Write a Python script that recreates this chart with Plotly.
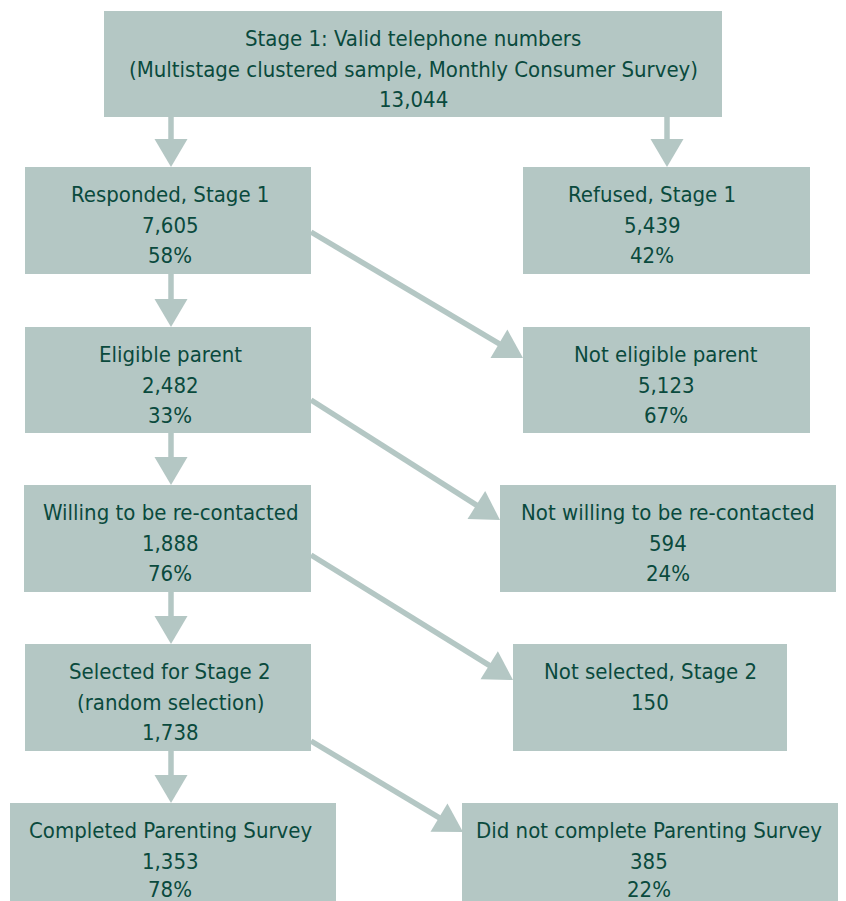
import plotly.graph_objects as go
import math

# ---- data ----
titles = [
    ["Stage 1: Valid telephone numbers", "(Multistage clustered sample, Monthly Consumer Survey)"],
    ["Responded, Stage 1"], ["Refused, Stage 1"],
    ["Eligible parent"], ["Not eligible parent"],
    ["Willing to be re-contacted"], ["Not willing to be re-contacted"],
    ["Selected for Stage 2", "(random selection)"], ["Not selected, Stage 2"],
    ["Completed Parenting Survey"], ["Did not complete Parenting Survey"],
]
counts = ["13,044", "7,605", "5,439", "2,482", "5,123", "1,888", "594",
          "1,738", "150", "1,353", "385"]
percents = ["", "58%", "42%", "33%", "67%", "76%", "24%", "", "", "78%", "22%"]

# ---- layout (pixel geometry, page coordinates) ----
W, H = 846, 901
OFF = 8  # page body margin
boxes = [  # x0, x1, y0, y1
    (104, 722, 11, 117),
    (25, 311, 167, 274), (523, 810, 167, 274),
    (25, 311, 327, 433), (523, 810, 327, 433),
    (24, 311, 485, 592), (500, 836, 485, 592),
    (25, 311, 644, 751), (513, 787, 644, 751),
    (10, 336, 803, 912), (462, 850, 803, 912),
]
text_x = [413, 170, 652, 170, 666, 170, 668, 170, 650, 170, 649]
line_offsets = [27, 58, 88]

vert_arrows = [  # x, y_start, y_tip
    (171, 117, 167), (667, 117, 167),
    (171, 274, 327), (171, 433, 485), (171, 592, 644), (171, 751, 803),
]
diag_arrows = [  # x0, y0, x_tip, y_tip
    (311, 232, 523, 358),
    (311, 400, 500, 520),
    (311, 555, 513, 680),
    (311, 741, 463, 832),
]

BOX = "#b4c7c4"
TXT = "#0a4a3d"
FONT = "DejaVu Sans Condensed, Liberation Sans Narrow, sans-serif"
FS = 22
HEAD_L, HEAD_W, SHAFT = 28, 33, 5.5

fig = go.Figure()
shapes = []
annotations = []

for (x0, x1, y0, y1) in boxes:
    shapes.append(dict(type="rect", xref="x", yref="y", x0=x0, x1=x1, y0=y0, y1=y1,
                       fillcolor=BOX, line=dict(width=0), layer="below"))


def arrow(xs, ys, xt, yt):
    dx, dy = xt - xs, yt - ys
    L = math.hypot(dx, dy)
    ux, uy = dx / L, dy / L
    bx, by = xt - ux * HEAD_L, yt - uy * HEAD_L
    shapes.append(dict(type="line", xref="x", yref="y", x0=xs, y0=ys, x1=bx + ux * 2, y1=by + uy * 2,
                       line=dict(color=BOX, width=SHAFT), layer="below"))
    px, py = -uy, ux
    p1 = (bx + px * HEAD_W / 2, by + py * HEAD_W / 2)
    p2 = (bx - px * HEAD_W / 2, by - py * HEAD_W / 2)
    path = f"M {xt},{yt} L {p1[0]:.2f},{p1[1]:.2f} L {p2[0]:.2f},{p2[1]:.2f} Z"
    shapes.append(dict(type="path", xref="x", yref="y", path=path,
                       fillcolor=BOX, line=dict(width=0), layer="below"))


for (x, ys, yt) in vert_arrows:
    arrow(x, ys, x, yt)
for (xs, ys, xt, yt) in diag_arrows:
    arrow(xs, ys, xt, yt)

for i, (x0, x1, y0, y1) in enumerate(boxes):
    lines = list(titles[i]) + [counts[i]]
    if percents[i]:
        lines.append(percents[i])
    for j, t in enumerate(lines):
        yy = y0 + line_offsets[j]
        if y0 + line_offsets[j] > H - 12:
            yy = H - 12
        annotations.append(dict(x=text_x[i], y=yy,
                                xref="x", yref="y", text=t, showarrow=False,
                                xanchor="center", yanchor="middle",
                                font=dict(family=FONT, size=FS, color=TXT)))

fig.update_layout(
    width=W - OFF, height=H - OFF,
    margin=dict(l=0, r=0, t=0, b=0),
    paper_bgcolor="white", plot_bgcolor="white",
    xaxis=dict(range=[OFF, W], visible=False, fixedrange=True),
    yaxis=dict(range=[H, OFF], visible=False, fixedrange=True),
    shapes=shapes, annotations=annotations, showlegend=False,
)

fig.write_html("out.html")
